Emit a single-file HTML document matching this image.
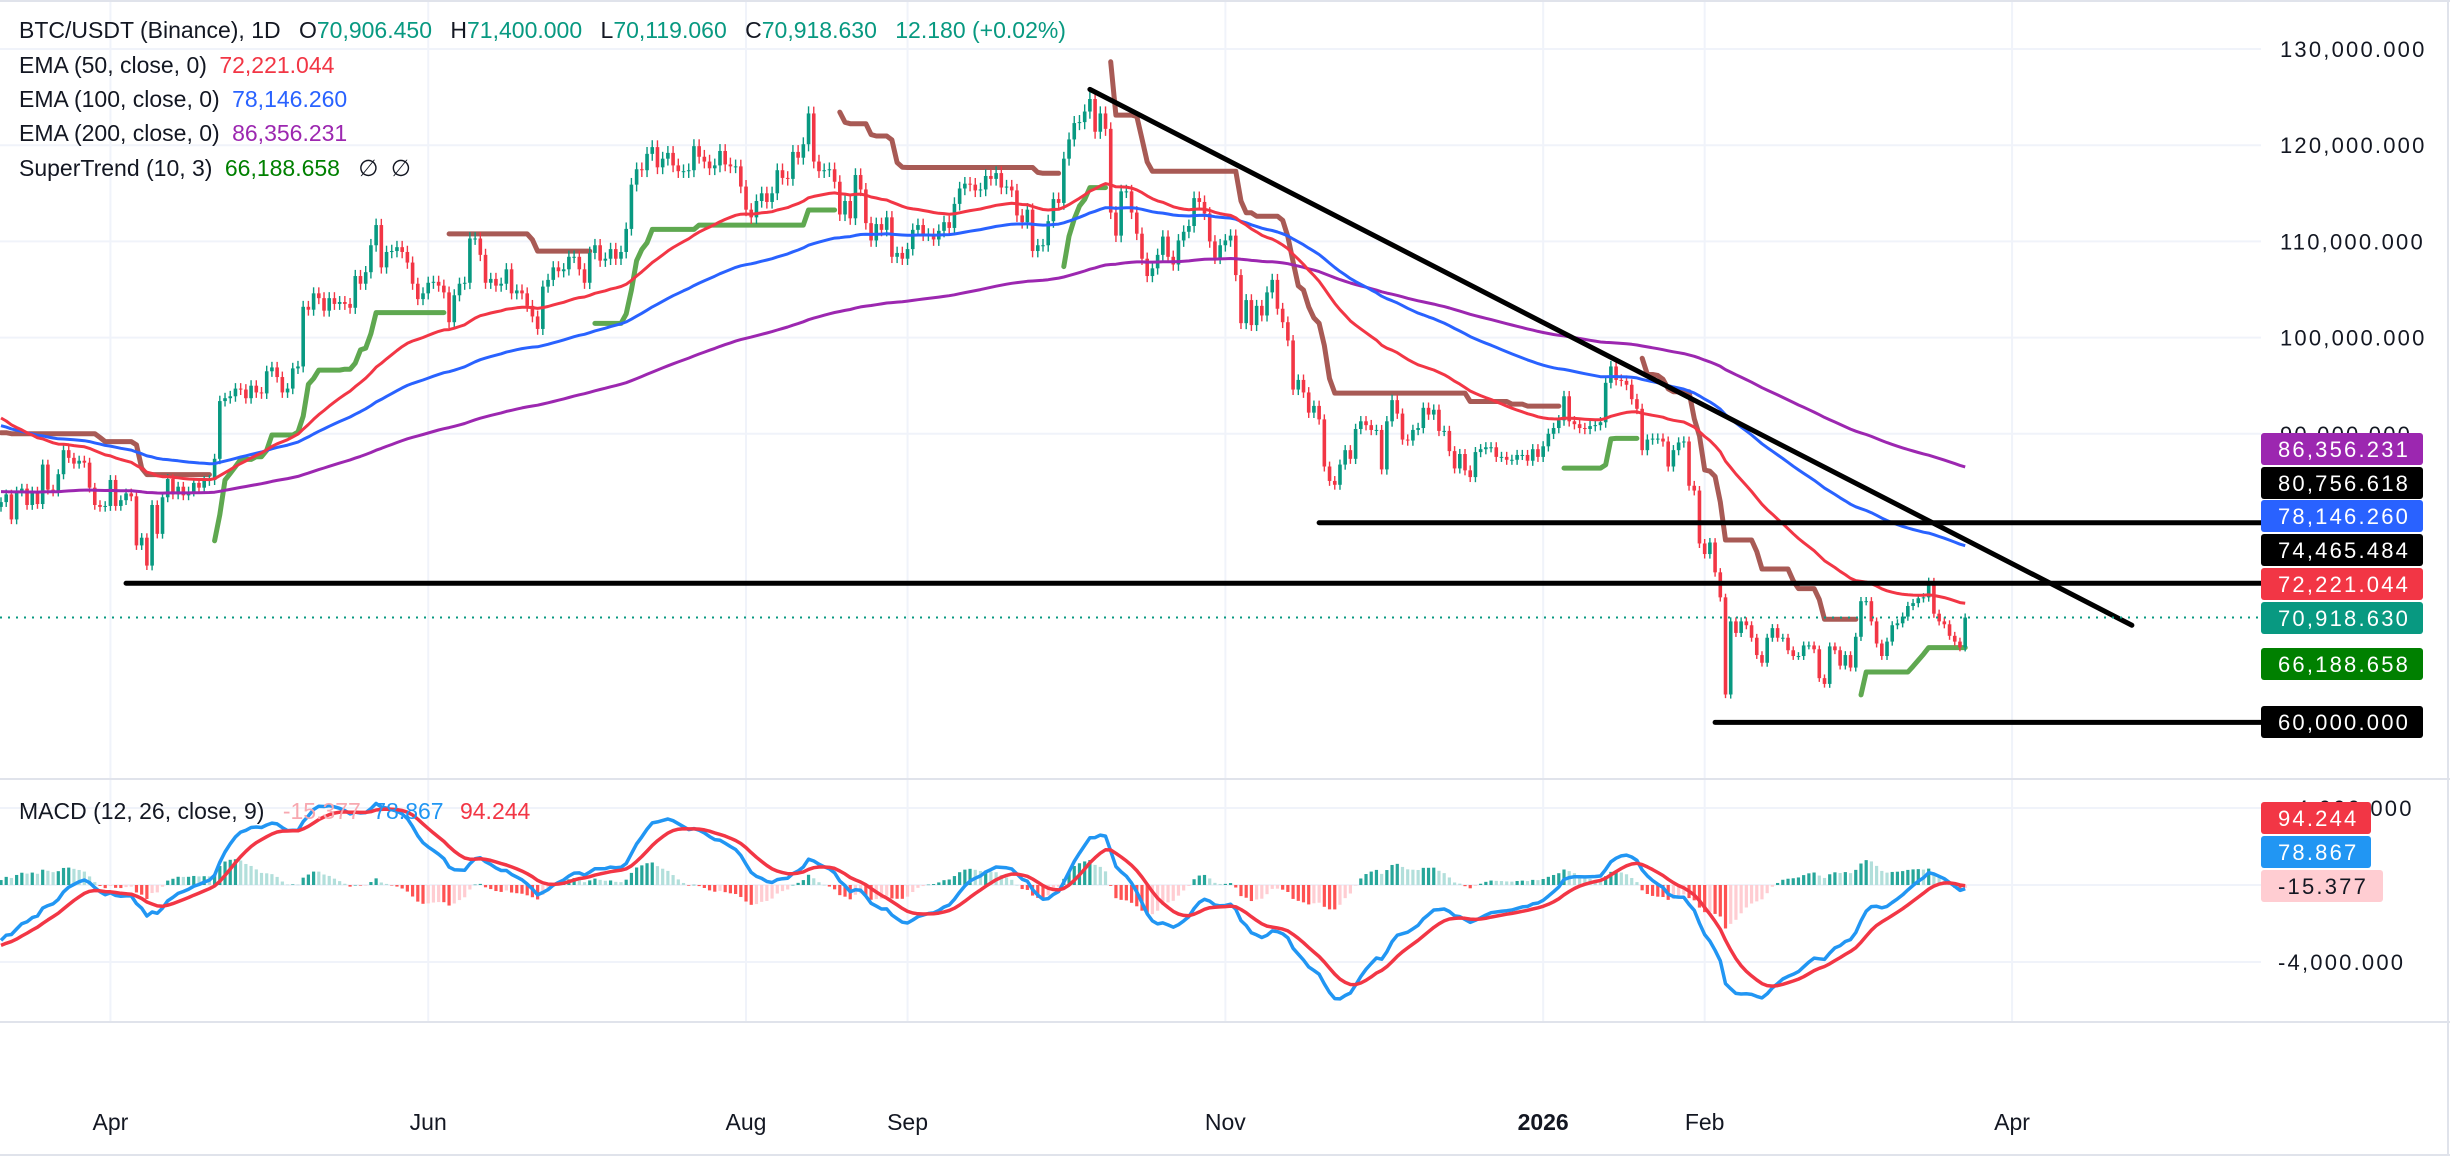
<!DOCTYPE html>
<html><head><meta charset="utf-8">
<style>
html,body{margin:0;padding:0;background:#fff;}
body{width:2450px;height:1156px;overflow:hidden;position:relative;font-family:"Liberation Sans",sans-serif;}
svg{position:absolute;left:0;top:0;}
.leg{position:absolute;left:19px;font-size:23px;color:#131722;white-space:nowrap;}
.leg span{margin-left:6px;}
</style></head>
<body>
<svg id="chart" width="2450" height="1156" viewBox="0 0 2450 1156" xmlns="http://www.w3.org/2000/svg"></svg>
<div class="leg" style="top:17px">BTC/USDT (Binance), 1D <span style="margin-left:12px">O<b style="font-weight:normal;color:#089981">70,906.450</b></span> <span style="margin-left:12px">H<b style="font-weight:normal;color:#089981">71,400.000</b></span> <span style="margin-left:12px">L<b style="font-weight:normal;color:#089981">70,119.060</b></span> <span style="margin-left:12px">C<b style="font-weight:normal;color:#089981">70,918.630</b></span> <span style="margin-left:12px;color:#089981">12.180 (+0.02%)</span></div>
<div class="leg" style="top:52px">EMA (50, close, 0) <span style="color:#f23645">72,221.044</span></div>
<div class="leg" style="top:86px">EMA (100, close, 0) <span style="color:#2962ff">78,146.260</span></div>
<div class="leg" style="top:120px">EMA (200, close, 0) <span style="color:#9c27b0">86,356.231</span></div>
<div class="leg" style="top:155px">SuperTrend (10, 3) <span style="color:#008000">66,188.658</span> <span style="margin-left:12px">∅</span> <span>∅</span></div>
<div class="leg" style="top:798px">MACD (12, 26, close, 9) <span style="color:#f7a8b0;margin-left:12px">-15.377</span> <span style="color:#2196f3">78.867</span> <span style="color:#f23645;margin-left:10px">94.244</span></div>
<script>
// ---- data (closes in thousands USDT, daily from 2025-03-11) ----
const closesMar25=[82.9,83.7,81.1,84.0,84.3,82.6,84.0,82.7,86.8,84.2,84.0,85.8,88.3,87.5,86.9,87.2,87.0,84.4,82.6,82.4,82.5];
const closesApr25=[85.2,82.5,83.1,83.8,83.5,78.4,79.2,76.3,82.6,79.6,83.4,85.3,83.7,84.5,83.6,84.0,84.9,84.4,85.1,85.2,87.4,93.4,93.7,93.9,94.7,94.6,93.7,95.0,94.3,94.2];
const closesMay25=[96.5,96.9,95.9,94.3,94.7,96.8,97.0,103.2,102.9,104.6,104.1,102.8,104.1,103.5,103.7,103.5,103.1,106.4,105.6,106.8,109.6,111.7,107.3,108.9,109.0,109.4,108.9,107.8,105.6,104.0,104.6];
const closesJun25=[105.7,105.8,105.4,104.7,101.6,104.4,105.6,105.7,110.3,110.3,108.6,105.7,106.1,105.4,105.6,107.1,104.6,104.9,104.6,103.3,102.2,100.9,105.3,106.0,107.3,106.9,107.1,108.4,108.4,107.1];
const closesJul25=[105.7,108.8,109.6,108.0,108.2,109.2,108.2,108.9,111.3,115.9,117.5,117.4,119.1,119.8,117.7,118.6,119.2,117.9,117.3,117.3,117.4,119.9,118.8,118.3,117.6,117.9,119.4,118.0,117.8,117.8,115.7];
const closesAug25=[113.3,112.5,114.2,115.0,114.1,115.0,117.4,116.6,116.5,119.3,118.7,120.1,123.3,118.3,117.3,117.4,117.5,116.2,112.8,114.2,112.4,116.9,115.4,111.9,110.1,111.8,111.2,112.5,108.4,108.8,108.2];
const closesSep25=[109.2,111.2,111.7,110.7,110.7,110.2,111.1,112.0,111.4,113.9,115.5,116.0,115.9,115.3,115.4,116.8,116.5,117.1,115.6,115.7,115.3,112.7,112.0,113.3,109.0,109.6,109.6,112.1,114.4,114.0];
const closesOct25=[118.6,120.6,122.3,122.4,123.5,124.8,121.4,123.3,121.7,113.0,110.6,115.2,115.2,113.0,110.8,108.2,106.4,107.2,108.6,110.5,108.4,107.6,110.1,111.0,111.6,114.5,114.1,112.9,110.0,108.3,109.6];
const closesNov25=[110.1,110.6,106.5,101.5,103.9,101.3,103.3,102.3,104.7,106.0,103.0,101.6,99.7,94.6,95.6,94.3,92.2,92.9,91.5,86.6,85.1,84.7,86.8,88.3,87.4,90.5,91.3,90.9,90.4,90.4];
const closesDec25=[86.3,91.3,93.5,92.1,89.4,89.3,90.4,90.6,92.7,92.0,92.5,90.3,90.3,88.2,86.4,87.9,86.2,85.5,88.1,88.4,88.6,88.6,87.6,87.6,87.3,87.3,87.8,87.8,87.2,88.4,87.6];
const closesJan26=[88.7,90.0,90.6,91.4,93.9,91.3,91.0,90.6,90.5,90.8,90.9,91.2,95.3,97.0,95.6,95.5,95.1,93.6,92.6,88.3,89.4,89.5,89.5,89.2,86.6,88.3,89.1,89.2,84.6,84.1,78.6];
const closesFeb26=[77.5,78.7,75.6,73.0,62.9,70.5,69.3,70.5,70.1,68.8,67.0,66.2,68.8,69.8,68.8,68.8,67.5,66.9,66.9,68.0,68.0,67.6,64.6,64.0,67.9,67.5,65.9,67.0];
const closesMar26=[65.7,68.9,72.6,72.6,70.5,68.2,66.9,68.4,70.1,70.3,71.0,72.1,72.4,72.9,73.0,74.6,71.3,70.5,70.2,69.0,68.4,67.8,70.9];
const firstOpen=[82.4];
const emaSeeds=[92.0,91.0,84.0]; // EMA50,100,200 at start
const macdSeeds=[83.0,86.1,-3.2]; // EMA12, EMA26, signal
const stSeed=[96.4,2.6]; // supertrend level, ATR
const priceTicks=[130000,120000,110000,100000,90000];
const macdTicks=[4000,-4000];
const monthLabels=["Apr","Jun","Aug","Sep","Nov","2026","Feb","Apr"];
const monthIdx=[21,82,143,174,235,296,327,386];
const drawLevels=[74.465484,80.756618,60.0];
const drawStartIdx=[24,253,329];
const trendPts=[[209,125.8],[409,70.1]];

const closes=[].concat(closesMar25,closesApr25,closesMay25,closesJun25,closesJul25,closesAug25,closesSep25,closesOct25,closesNov25,closesDec25,closesJan26,closesFeb26,closesMar26);

const svg=document.getElementById('chart');
const NS='http://www.w3.org/2000/svg';
function mk(tag,attrs,parent){const e=document.createElementNS(NS,tag);for(const k in attrs)e.setAttribute(k,attrs[k]);(parent||svg).appendChild(e);return e;}
const PR=2261;
const xI=i=>1+i*5.21;
const yP=p=>49+(130-p)*9.62;
const yM=v=>885-v/1000*19.25;

// backgrounds/grid
const grid=mk('g',{});


priceTicks.forEach(t=>{mk('line',{x1:0,x2:PR,y1:yP(t/1000),y2:yP(t/1000),stroke:'#f0f3fa','stroke-width':2},grid);});
macdTicks.concat([0]).forEach(t=>{mk('line',{x1:0,x2:PR,y1:yM(t),y2:yM(t),stroke:'#f0f3fa','stroke-width':2},grid);});
monthIdx.forEach(i=>{mk('line',{x1:xI(i),x2:xI(i),y1:0,y2:1022,stroke:'#f0f3fa','stroke-width':2},grid);});
mk('line',{x1:0,x2:2450,y1:779,y2:779,stroke:'#e0e3eb','stroke-width':2});
mk('line',{x1:0,x2:2450,y1:1022,y2:1022,stroke:'#e0e3eb','stroke-width':2});
mk('line',{x1:2448,x2:2448,y1:0,y2:1156,stroke:'#e0e3eb','stroke-width':2});
mk('line',{x1:0,x2:2450,y1:1,y2:1,stroke:'#e0e3eb','stroke-width':2});
mk('line',{x1:0,x2:2450,y1:1155,y2:1155,stroke:'#e0e3eb','stroke-width':2});

// OHLC
const n=closes.length;
const opens=[],highs=[],lows=[];
for(let i=0;i<n;i++){const o=i?closes[i-1]:firstOpen[0];const c=closes[i];const w=0.006*c;opens.push(o);highs.push(Math.max(o,c)+w);lows.push(Math.min(o,c)-w);}

// EMAs
function ema(seed,len){const a=2/(len+1);let v=seed;return closes.map(c=>(v=v+a*(c-v)));}
const e50=ema(emaSeeds[0],50),e100=ema(emaSeeds[1],100),e200=ema(emaSeeds[2],200);
const e12=ema(macdSeeds[0],12),e26=ema(macdSeeds[1],26);
const macd=e12.map((v,i)=>(v-e26[i])*1000);
let sg=macdSeeds[2]*1000;const sig=macd.map(m=>(sg=sg+2/10*(m-sg)));
const hist=macd.map((m,i)=>m-sig[i]);

// Supertrend
const st=[],stDir=[];
{let atr=stSeed[1],up=closes[0]-6,dn=stSeed[0],trend=-1;
for(let i=0;i<n;i++){const pc=i?closes[i-1]:firstOpen[0];const tr=Math.max(highs[i]-lows[i],Math.abs(highs[i]-pc),Math.abs(lows[i]-pc));atr=(atr*9+tr)/10;
 const hl2=(highs[i]+lows[i])/2;let u=hl2-3*atr,d=hl2+3*atr;
 if(i>0){u=pc>up?Math.max(u,up):u;d=pc<dn?Math.min(d,dn):d;}else{d=Math.min(d,dn);}
 const c=closes[i];
 if(trend===-1&&c>dn)trend=1;else if(trend===1&&c<up)trend=-1;
 up=u;dn=d;st.push(trend===1?u:d);stDir.push(trend);}}

// clip paths
const defs=mk('defs',{});
const cp=mk('clipPath',{id:'mainclip'},defs);mk('rect',{x:0,y:2,width:PR,height:776},cp);
const cp2=mk('clipPath',{id:'macdclip'},defs);mk('rect',{x:0,y:780,width:PR,height:241},cp2);

// supertrend (linear segments, broken at trend flips)
const stG=mk('g',{'clip-path':'url(#mainclip)'});


{let seg=[];let dir=stDir[0];
 const flush=()=>{if(seg.length>1){const p=mk('path',{d:'M'+seg.map(s=>s[0].toFixed(1)+','+s[1].toFixed(1)).join('L'),fill:'none',stroke:dir===1?'#5fa850':'#a85a55','stroke-width':5,'stroke-linejoin':'round','stroke-linecap':'round'},stG);}};
 for(let i=0;i<n;i++){if(stDir[i]!==dir){flush();seg=[];dir=stDir[i];}
  seg.push([xI(i),yP(st[i])]);}
 flush();}

// candles
const cg=mk('g',{'clip-path':'url(#mainclip)'});


for(let i=0;i<n;i++){const up=closes[i]>=opens[i];const col=up?'#089981':'#f23645';const x=xI(i);
 const wk=mk('line',{x1:x,x2:x,y1:yP(highs[i]),y2:yP(lows[i]),stroke:col,'stroke-width':1.4},cg);
 
 
 const t=yP(Math.max(opens[i],closes[i])),b=yP(Math.min(opens[i],closes[i]));
 const r=mk('rect',{x:x-1.8,y:t,width:3.6,height:Math.max(1,b-t),fill:col},cg);
 
 }

// EMA lines
function line(arr,f,col,w,name,clip){const p=mk('path',{d:'M'+arr.map((v,i)=>xI(i).toFixed(1)+','+f(v).toFixed(1)).join('L'),fill:'none',stroke:col,'stroke-width':w,'stroke-linejoin':'round','clip-path':clip});return p;}
line(e200,yP,'#9c27b0',3,'ema200-line','url(#mainclip)');
line(e100,yP,'#2962ff',3,'ema100-line','url(#mainclip)');
line(e50,yP,'#f23645',3,'ema50-line','url(#mainclip)');

// drawings
drawLevels.forEach((lv,k)=>{const l=mk('line',{x1:xI(drawStartIdx[k]),x2:PR,y1:yP(lv),y2:yP(lv),stroke:'#000','stroke-width':5,'stroke-linecap':'round'});
 
 });
{const tl=mk('line',{x1:xI(trendPts[0][0]),y1:yP(trendPts[0][1]),x2:xI(trendPts[1][0]),y2:yP(trendPts[1][1]),stroke:'#000','stroke-width':5,'stroke-linecap':'round'});
 
 }
{const lp=mk('line',{x1:0,x2:PR,y1:yP(closes[n-1]),y2:yP(closes[n-1]),stroke:'#089981','stroke-width':2,'stroke-dasharray':'2 6'});
 
 }

// MACD
const hg=mk('g',{'clip-path':'url(#macdclip)'});


for(let i=0;i<n;i++){const h=hist[i],pv=i?hist[i-1]:h;let col;
 if(h>=0)col=h>=pv?'#26a69a':'#b2dfdb';else col=h<=pv?'#ff5252':'#ffcdd2';
 const y0=yM(0),y1=yM(h);
 const r=mk('rect',{x:xI(i)-1.6,y:Math.min(y0,y1),width:3.2,height:Math.max(0.5,Math.abs(y1-y0)),fill:col},hg);
 
 }
line(macd,yM,'#2196f3',3.5,'macd-line','url(#macdclip)');
line(sig,yM,'#f23645',3.5,'signal-line','url(#macdclip)');

// axis labels
function txt(x,y,s,attrs,name){const t=mk('text',Object.assign({x:x,y:y,'font-family':'Liberation Sans, sans-serif','font-size':22,fill:'#131722','letter-spacing':2.2},attrs||{}));t.textContent=s;return t;}
const fmt=v=>v.toLocaleString('en-US',{minimumFractionDigits:3,maximumFractionDigits:3});
priceTicks.forEach(t=>txt(2280,yP(t/1000)+8,fmt(t),{},'price-tick'));
macdTicks.forEach(t=>txt(t<0?2278:2296,yM(t)+8,fmt(t),{},'macd-tick'));
monthLabels.forEach((m,k)=>txt(xI(monthIdx[k]),1130,m,{'text-anchor':'middle','letter-spacing':0,'font-size':23,'font-weight':m==='2026'?'bold':'normal'},'time-label'));

// price badges
function badge(y,s,bg,fg,w,name){const g=mk('g',{});
 mk('rect',{x:2261,y:y-16,width:w,height:32,rx:3,fill:bg},g);
 const t=mk('text',{x:2278,y:y+8,'font-family':'Liberation Sans, sans-serif','font-size':22,fill:fg,'letter-spacing':2.2},g);t.textContent=s;}
badge(449,'86,356.231','#9c27b0','#fff',162,'ema200-badge');
badge(483,'80,756.618','#000','#fff',162,'level-80756-badge');
badge(516,'78,146.260','#2962ff','#fff',162,'ema100-badge');
badge(550,'74,465.484','#000','#fff',162,'level-74465-badge');
badge(584,'72,221.044','#f23645','#fff',162,'ema50-badge');
badge(618,'70,918.630','#089981','#fff',162,'last-price-badge');
badge(664,'66,188.658','#008000','#fff',162,'supertrend-badge');
badge(722,'60,000.000','#000','#fff',162,'level-60000-badge');
badge(818,'94.244','#f23645','#fff',110,'signal-badge');
badge(852,'78.867','#2196f3','#fff',110,'macd-badge');
badge(886,'-15.377','#ffcdd2','#131722',122,'histogram-badge');
</script>
</body></html>
